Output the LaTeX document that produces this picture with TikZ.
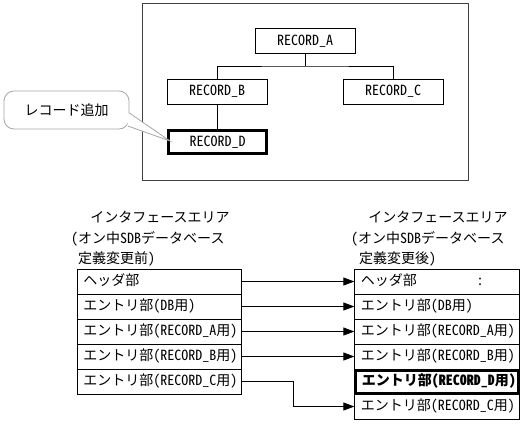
\documentclass[tikz,border=0pt]{standalone}
\usepackage{fontspec}
\setmainfont{Noto Sans CJK JP}
\newfontfamily\hw[CharacterWidth=Half]{Noto Sans CJK JP}
\usetikzlibrary{arrows.meta}
\begin{document}
\begin{tikzpicture}[x=1pt,y=-1pt,
  every node/.style={font=\fontsize{14}{16}\selectfont},
  frame/.style={draw=black!75, line width=0.8pt},
  recbox/.style={draw, line width=0.8pt, minimum width=100pt, minimum height=25pt, inner sep=0pt, font=\hw\fontsize{14}{16}\selectfont},
  recnew/.style={recbox, line width=3pt},
  rowbox/.style={draw, line width=0.8pt, minimum height=25pt, text width=152.5pt, inner xsep=6pt, inner ysep=0pt, align=left, text height=10.5pt, text depth=3pt},
  rownew/.style={rowbox, line width=3pt, font=\bfseries\fontsize{14}{16}\selectfont},
  titletext/.style={inner sep=0pt, anchor=west},
  arr/.style={draw, line width=0.8pt, -{Triangle[length=11pt,width=8pt]}},
  tree/.style={draw, line width=0.8pt},
  callbox/.style={draw=black!35, line width=0.8pt, fill=white, rounded corners=10pt, minimum width=125pt, minimum height=38pt, inner sep=0pt}
]
\useasboundingbox (0,0) rectangle (524,423);

% top frame
\node[frame, minimum width=326pt, minimum height=177pt, inner sep=0pt] (fr) at (305,91.5) {};

% records
\node[recbox] (A) at (305,41) {RECORD\_A};
\node[recbox] (B) at (217,91.5) {RECORD\_B};
\node[recbox] (C) at (393,91.5) {RECORD\_C};
\node[recnew, minimum width=98pt, minimum height=23pt] (D) at (217.5,142) {RECORD\_D};

\coordinate (j) at (305,66);
\draw[tree] (A.south) -- (j);
\draw[tree] (B.north) |- (j) -| (C.north);
\draw[tree] (B.south) -- (B.south |- D.north);

% callout
\node[callbox] (call) at (66.5,110) {レコード追加};
\coordinate (tip) at (170,141);
\fill[white] ([yshift=-3pt,xshift=-1pt]call.east) -- (tip) -- ([yshift=-16pt,xshift=-2pt]call.east) -- cycle;
\draw[draw=black!35, line width=0.8pt] ([yshift=-3pt]call.east) -- (tip) -- ([yshift=-16pt,xshift=-1.5pt]call.east);

% left titles
\node (lt) at (160,217) {インタフェースエリア};
\node[titletext] (lt2) at (71,239) {{\hw (}オン中{\hw SDB}データベース};
\node[titletext] (lt3) at (78,259) {定義変更前{\hw )}};

% right titles
\node (rt) at (438,217) {インタフェースエリア};
\node[titletext] (rt2) at (351,239) {{\hw (}オン中{\hw SDB}データベース};
\node[titletext] (rt3) at (359,259) {定義変更後{\hw )}};

% left rows
\node[rowbox] (L1) at (159.5,281.5) {ヘッダ部};
\node[rowbox] (L2) at (159.5,306.5) {エントリ部{\hw (DB}用{\hw )}};
\node[rowbox] (L3) at (159.5,331.5) {エントリ部{\hw (RECORD\_A}用{\hw )}};
\node[rowbox] (L4) at (159.5,356.5) {エントリ部{\hw (RECORD\_B}用{\hw )}};
\node[rowbox] (L5) at (159.5,381.5) {エントリ部{\hw (RECORD\_C}用{\hw )}};

% right rows
\node[rowbox] (R1) at (437,281.5) {ヘッダ部};
\node[inner sep=0pt, font=\hw\fontsize{14}{16}\selectfont] (hc) at (480,281.5) {:};
\node[rowbox] (R2) at (437,306.5) {エントリ部{\hw (DB}用{\hw )}};
\node[rowbox] (R3) at (437,331.5) {エントリ部{\hw (RECORD\_A}用{\hw )}};
\node[rowbox] (R4) at (437,356.5) {エントリ部{\hw (RECORD\_B}用{\hw )}};
\node[rowbox] (R6) at (437,406.5) {エントリ部{\hw (RECORD\_C}用{\hw )}};
\node[rownew, text width=150.5pt, minimum height=23pt] (R5) at (437,381.5) {エントリ部{\hw (RECORD\_D}用{\hw )}};

% arrows
\draw[arr] (L1.east) -- (R1.west);
\draw[arr] (L2.east) -- (R2.west);
\draw[arr] (L3.east) -- (R3.west);
\draw[arr] (L4.east) -- (R4.west);
\draw[arr] (L5.east) -- ++(51,0) |- (R6.west);
\end{tikzpicture}
\end{document}
